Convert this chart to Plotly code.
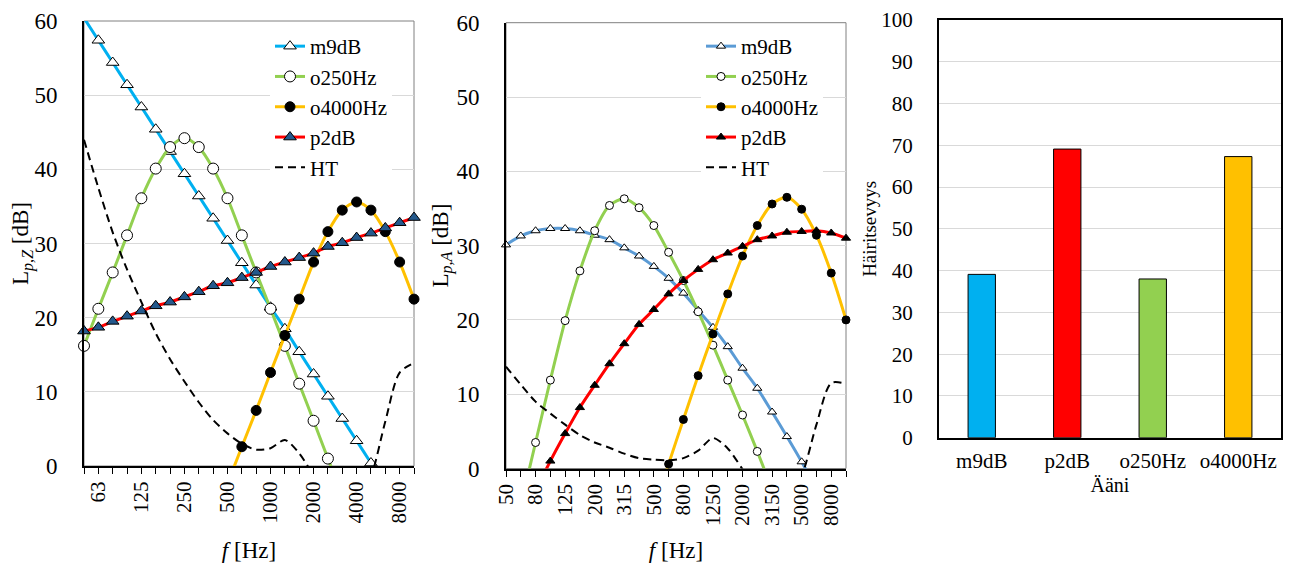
import plotly.graph_objects as go

OFF = 8  # page body margin of the html page
W, H = 1293 - OFF, 563 - OFF
FONT = "Liberation Serif, Times New Roman, serif"

# ---------------- data ----------------
bands = ["50", "63", "80", "100", "125", "160", "200", "250", "315", "400", "500", "630",
         "800", "1000", "1250", "1600", "2000", "2500", "3150", "4000", "5000", "6300", "8000", "10000"]
band_pos = list(range(len(bands)))
left_label_pos = [1, 4, 7, 10, 13, 16, 19, 22]
left_label_text = ["63", "125", "250", "500", "1000", "2000", "4000", "8000"]
mid_label_pos = [0, 2, 4, 6, 8, 10, 12, 14, 16, 18, 20, 22]
mid_label_text = ["50", "80", "125", "200", "315", "500", "800", "1250", "2000", "3150", "5000", "8000"]

# Z-weighted levels (left chart)
z_m9dB = [60.4, 57.4, 54.4, 51.4, 48.4, 45.4, 42.4, 39.4, 36.4, 33.4, 30.4, 27.4,
          24.4, 21.4, 18.5, 15.4, 12.4, 9.4, 6.4, 3.4, 0.4, -2.6, -5.6, -8.6]
z_o250Hz = [16.2, 21.2, 26.1, 31.1, 36.1, 40.1, 43.0, 44.2, 43.0, 40.1, 36.1, 31.1,
            26.1, 21.2, 16.2, 11.1, 6.1, 1.0, -4.0, None, None, None, None, None]
z_o4000Hz = [None, None, None, None, None, None, None, None, None, None, -2.4, 2.6,
             7.5, 12.6, 17.6, 22.5, 27.5, 31.6, 34.5, 35.6, 34.5, 31.6, 27.5, 22.5]
z_p2dB = [18.2, 18.7, 19.5, 20.2, 20.9, 21.6, 22.1, 22.8, 23.5, 24.3, 24.7, 25.4,
          26.1, 26.9, 27.5, 28.1, 28.7, 29.6, 30.1, 30.8, 31.4, 32.1, 32.8, 33.5]
z_HT = [44.0, 37.5, 31.5, 26.5, 22.1, 17.9, 14.4, 11.4, 8.6, 6.2, 4.4, 3.0,
        2.2, 2.4, 3.5, 1.7, -1.3, -4.2, -6.0, -5.4, -1.5, 6.0, 12.6, 13.9]

# A-weighted levels (middle chart)
a_m9dB = [30.1, 31.3, 32.0, 32.3, 32.3, 32.0, 31.4, 30.8, 29.7, 28.6, 27.2, 25.6,
          23.6, 21.3, 19.0, 16.4, 13.5, 10.8, 7.6, 4.3, 0.9, -2.7, None, None]
a_o250Hz = [-14.0, -5.0, 3.5, 11.9, 19.9, 26.6, 32.0, 35.4, 36.3, 35.1, 32.7, 29.1,
            25.3, 21.1, 16.6, 11.9, 7.2, 2.3, -2.8, None, None, None, None, None]
a_o4000Hz = [None, None, None, None, None, None, None, None, None, None, -5.6, 0.6,
             6.6, 12.5, 18.1, 23.5, 28.6, 32.7, 35.6, 36.5, 34.9, 31.4, 26.3, 20.0]
a_p2dB = [-12.0, -7.5, -3.0, 1.0, 4.7, 8.2, 11.2, 14.1, 16.8, 19.4, 21.4, 23.5,
          25.3, 26.8, 28.1, 29.0, 29.9, 30.8, 31.3, 31.8, 31.9, 32.0, 31.7, 31.0]
a_HT = [13.7, 11.3, 9.0, 7.4, 5.9, 4.5, 3.5, 2.8, 2.0, 1.4, 1.2, 1.1,
        1.4, 2.4, 4.1, 2.7, -0.1, -2.9, -4.8, -4.4, -1.0, 5.9, 11.5, 11.4]

# Bar chart (right)
sounds = ["m9dB", "p2dB", "o250Hz", "o4000Hz"]
annoyance = [39.1, 69.1, 38.0, 67.3]

# ---------------- styles ----------------
bar_colors = ["#00B0F0", "#FF0000", "#92D050", "#FFC000"]
left_styles = {
    "m9dB": dict(color="#00B0F0", symbol="triangle-up", mfill="white", size=11),
    "o250Hz": dict(color="#92D050", symbol="circle", mfill="white", size=11),
    "o4000Hz": dict(color="#FFC000", symbol="circle", mfill="black", size=10),
    "p2dB": dict(color="#FF0000", symbol="triangle-up", mfill="#24598C", size=11),
}
mid_styles = {
    "m9dB": dict(color="#5B9BD5", symbol="triangle-up", mfill="white", size=8),
    "o250Hz": dict(color="#92D050", symbol="circle", mfill="white", size=8),
    "o4000Hz": dict(color="#FFC000", symbol="circle", mfill="black", size=8),
    "p2dB": dict(color="#FF0000", symbol="triangle-up", mfill="black", size=8),
}
left_series = {"m9dB": z_m9dB, "o250Hz": z_o250Hz, "o4000Hz": z_o4000Hz, "p2dB": z_p2dB}
mid_series = {"m9dB": a_m9dB, "o250Hz": a_o250Hz, "o4000Hz": a_o4000Hz, "p2dB": a_p2dB}

fig = go.Figure()


def visible_only(vals, lo=0, hi=60):
    return [v if (v is not None and lo <= v <= hi) else None for v in vals]


def add_panel(series, styles, ht, xa, ya, legend):
    for name, vals in series.items():
        st = styles[name]
        fig.add_trace(go.Scatter(
            x=band_pos, y=vals, mode="lines", xaxis=xa, yaxis=ya,
            line=dict(color=st["color"], width=3, shape="spline", smoothing=0.8),
            showlegend=False, hoverinfo="skip"))
        fig.add_trace(go.Scatter(
            x=band_pos, y=visible_only(vals), mode="markers", xaxis=xa, yaxis=ya,
            marker=dict(symbol=st["symbol"], size=st["size"], color=st["mfill"],
                        line=dict(color="black", width=1)),
            cliponaxis=False, showlegend=False, name=name))
        fig.add_trace(go.Scatter(
            x=[None], y=[None], mode="lines+markers", xaxis=xa, yaxis=ya, name=name,
            line=dict(color=st["color"], width=3),
            marker=dict(symbol=st["symbol"], size=st["size"], color=st["mfill"],
                        line=dict(color="black", width=1)),
            legend=legend, showlegend=True))
    fig.add_trace(go.Scatter(
        x=band_pos, y=ht, mode="lines", xaxis=xa, yaxis=ya, name="HT",
        line=dict(color="black", width=2, dash="8px,5px", shape="spline", smoothing=0.8),
        legend=legend, showlegend=True))


add_panel(left_series, left_styles, z_HT, "x", "y", "legend")
add_panel(mid_series, mid_styles, a_HT, "x2", "y2", "legend2")

fig.add_trace(go.Bar(
    x=sounds, y=annoyance, xaxis="x3", yaxis="y3", width=0.32,
    marker=dict(color=bar_colors, line=dict(color="black", width=1)),
    showlegend=False))

# ---------------- layout ----------------
def px_x(p):
    return (p - OFF) / W


def px_y(p):
    return 1 - (p - OFF) / H


tick_font = dict(family=FONT, size=21, color="black")
ytick_font = dict(family=FONT, size=23, color="black")
title_font = dict(family=FONT, size=23, color="black")
legend_font = dict(family=FONT, size=21, color="black")
grid = "#D9D9D9"

L_dom_x = [px_x(84), px_x(414)]
L_dom_y = [px_y(466), px_y(21)]
M_dom_x = [px_x(506), px_x(846)]
M_dom_y = [px_y(468.5), px_y(22.7)]
R_dom_x = [px_x(939), px_x(1281)]
R_dom_y = [px_y(437.7), px_y(20)]


def freq_xaxis(dom, anchor, label_pos, label_text):
    return dict(domain=dom, anchor=anchor, range=[0, 23], automargin=False,
                tickmode="array", tickvals=label_pos, ticktext=label_text, tickangle=-90,
                ticks="outside", ticklen=6, tickwidth=1, tickcolor="black",
                minor=dict(tickmode="array", tickvals=band_pos, ticks="outside",
                           ticklen=6, tickwidth=1, tickcolor="black", showgrid=False),
                showline=True, linecolor="black", linewidth=2, showgrid=False,
                zeroline=False, tickfont=tick_font, ticklabelstandoff=-1,
                title=dict(text="<i>f</i> [Hz]", font=title_font, standoff=20))


def level_yaxis(dom, anchor, title, standoff):
    return dict(domain=dom, anchor=anchor, range=[0, 60], dtick=10, automargin=False,
                showline=True, linecolor="black", linewidth=2, showgrid=True,
                gridcolor=grid, gridwidth=1, zeroline=False, ticks="",
                tickfont=ytick_font, ticklabelstandoff=20,
                title=dict(text=title, font=title_font, standoff=standoff))


def inner_ticks(overlay, dom, anchor):
    return dict(overlaying=overlay, domain=dom, anchor=anchor, range=[0, 23],
                automargin=False, tickmode="array", tickvals=band_pos, ticks="inside",
                ticklen=4, tickwidth=1, tickcolor="black", showticklabels=False,
                showline=False, showgrid=False, zeroline=False)


fig.update_layout(
    width=W, height=H,
    margin=dict(l=0, r=0, t=0, b=0, autoexpand=False),
    paper_bgcolor="white", plot_bgcolor="white",
    font=dict(family=FONT, size=21, color="black"),
    xaxis=freq_xaxis(L_dom_x, "y", left_label_pos, left_label_text),
    yaxis=level_yaxis(L_dom_y, "x", "L<sub><i>p,Z</i></sub> [dB]", 0),
    xaxis2=freq_xaxis(M_dom_x, "y2", mid_label_pos, mid_label_text),
    yaxis2=level_yaxis(M_dom_y, "x2", "L<sub><i>p,A</i></sub> [dB]", 0),
    xaxis4=inner_ticks("x", L_dom_x, "y"),
    xaxis5=inner_ticks("x2", M_dom_x, "y2"),
    xaxis3=dict(domain=R_dom_x, anchor="y3", automargin=False, showline=True, mirror=True,
                linecolor="black", linewidth=2, ticks="", tickfont=tick_font,
                ticklabelstandoff=3,
                title=dict(text="Ääni", font=dict(family=FONT, size=20, color="black"), standoff=6)),
    yaxis3=dict(domain=R_dom_y, anchor="x3", range=[0, 100], dtick=10, automargin=False,
                showline=True, mirror=True, linecolor="black", linewidth=2,
                showgrid=True, gridcolor=grid, zeroline=False, ticks="",
                tickfont=tick_font, ticklabelstandoff=20,
                title=dict(text="Häiritsevyys", font=dict(family=FONT, size=19, color="black"), standoff=0)),
    legend=dict(x=px_x(270), y=px_y(26), xanchor="left", yanchor="top",
                bgcolor="white", font=legend_font, borderwidth=0, tracegroupgap=0),
    legend2=dict(x=px_x(701), y=px_y(26), xanchor="left", yanchor="top",
                 bgcolor="white", font=legend_font, borderwidth=0, tracegroupgap=0),
    showlegend=True,
    shapes=[
        dict(type="rect", xref="x domain", yref="y domain", x0=0, x1=1, y0=0, y1=1,
             line=dict(color="#808080", width=1), layer="below"),
        dict(type="rect", xref="x2 domain", yref="y2 domain", x0=0, x1=1, y0=0, y1=1,
             line=dict(color="#808080", width=1), layer="below"),
    ],
)

fig.write_html("out.html")
